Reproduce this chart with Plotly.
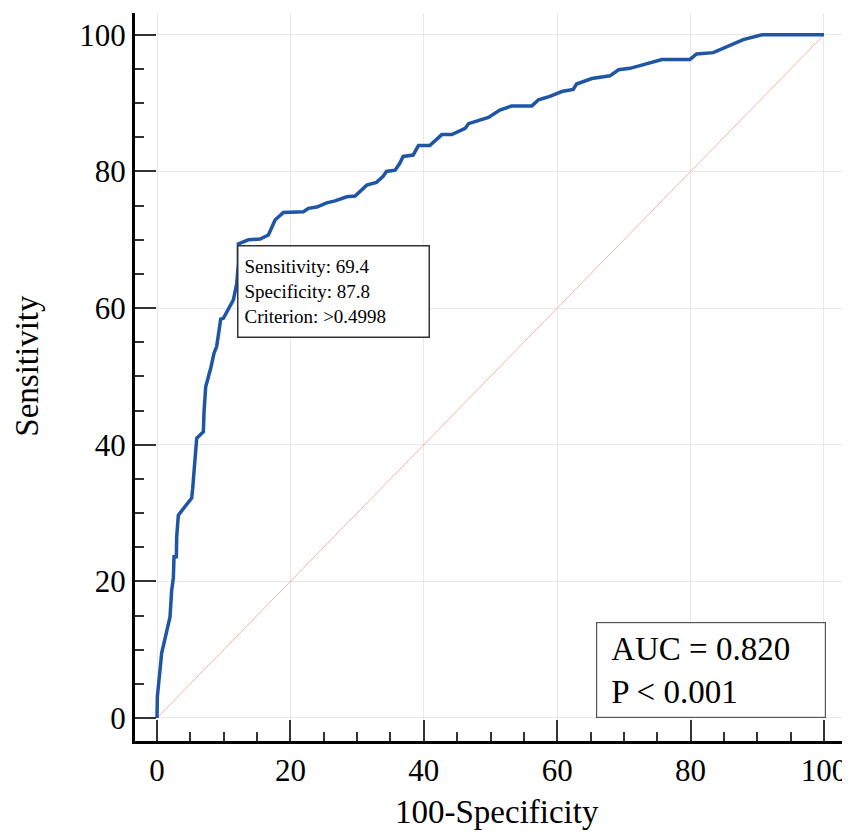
import plotly.graph_objects as go

# ROC curve points (100-Specificity, Sensitivity)
fpr = [0, 0.05, 0.7, 1.95, 2.2, 2.45, 2.55, 2.9, 2.95, 3.2, 5.2, 5.35, 5.95, 6.95, 7.05, 7.3,
       8.05, 8.55, 8.95, 9.2, 9.55, 9.95, 10.85, 11.45, 11.95, 12.2, 12.2, 13.7, 15.45,
       16.7, 17.7, 18.95, 21.95, 22.7, 23.95, 25.45, 26.7, 28.45, 29.7, 31.45, 32.9,
       33.9, 34.4, 35.7, 36.4, 36.9, 38.4, 39.2, 40.9, 42.7, 44.2, 46.2, 46.7, 49.7,
       51.4, 53.2, 56.2, 57.2, 58.9, 60.7, 62.4, 62.9, 65.2, 67.9, 69.2, 70.9, 72.4,
       74.7, 75.7, 79.9, 80.9, 83.4, 85.9, 87.9, 90.7, 100]
tpr = [0, 3.1, 9.5, 14.8, 18.7, 20.5, 23.6, 23.6, 26.5, 29.7, 32.2, 33.6, 40.95, 41.9, 44.8, 48.5,
       51.2, 53.4, 54.4, 55.8, 58.4, 58.5, 60.0, 61.2, 63.6, 66.6, 69.4, 70.0, 70.1,
       70.7, 72.9, 74.0, 74.1, 74.6, 74.8, 75.4, 75.7, 76.3, 76.4, 78.0, 78.4,
       79.3, 80.0, 80.2, 81.2, 82.2, 82.4, 83.8, 83.8, 85.4, 85.4, 86.3, 87.0, 87.9,
       89.0, 89.6, 89.6, 90.5, 91.0, 91.7, 92.0, 92.8, 93.6, 94.0, 94.9, 95.1, 95.5,
       96.2, 96.4, 96.4, 97.2, 97.4, 98.4, 99.3, 100, 100]

diag = [0, 100]
tick_vals = [0, 20, 40, 60, 80, 100]
tick_text = ["0", "20", "40", "60", "80", "100"]

cut_sens = 69.4
cut_spec = 87.8
criterion = ">0.4998"
auc = 0.820

FONT = "Liberation Serif, Times New Roman, serif"

fig = go.Figure()
fig.add_trace(go.Scatter(x=diag, y=diag, mode="lines",
                         line=dict(color="#f2b5ab", width=1), hoverinfo="skip",
                         showlegend=False))
fig.add_trace(go.Scatter(x=fpr, y=tpr, mode="lines",
                         line=dict(color="#1f55a5", width=3.5), showlegend=False))

fig.add_annotation(x=12.0, y=69.3, xref="x", yref="y",
                   xanchor="left", yanchor="top", align="left", valign="middle",
                   showarrow=False, width=178, height=78,
                   text=f"Sensitivity: {cut_sens}<br>Specificity: {cut_spec}<br>Criterion: {criterion}",
                   font=dict(family=FONT, size=19, color="black"),
                   bordercolor="#333333", borderwidth=1.5, borderpad=6, bgcolor="white")

fig.add_annotation(x=100.3, y=0, xref="x", yref="y", xanchor="right", yanchor="bottom",
                   align="left", valign="middle", showarrow=False, width=200, height=66,
                   text=f"AUC = {auc:.3f}<br>P &lt; 0.001",
                   font=dict(family=FONT, size=33, color="black"),
                   bordercolor="#555555", borderwidth=1.2, borderpad=14, bgcolor="white")

# axis titles
fig.add_annotation(x=0.508, y=-0.098, xref="paper", yref="paper", xanchor="center",
                   yanchor="middle", showarrow=False, text="100-Specificity",
                   font=dict(family=FONT, size=33, color="black"))
fig.add_annotation(x=-0.152, y=0.515, xref="paper", yref="paper", xanchor="center",
                   yanchor="middle", showarrow=False, text="Sensitivity", textangle=-90,
                   font=dict(family=FONT, size=33, color="black"))

axis_common = dict(
    showline=True, linecolor="black", linewidth=3, mirror=False, automargin=False,
    ticks="inside", ticklen=21, tickwidth=2, tickcolor="#333333",
    tickvals=tick_vals, ticktext=tick_text,
    showgrid=True, gridcolor="#e8e8e8", gridwidth=1, zeroline=False,
    tickfont=dict(family=FONT, size=31, color="black"),
    minor=dict(ticks="inside", ticklen=9, tickwidth=2, tickcolor="#333333", dtick=5,
               tick0=0, showgrid=False),
)

fig.update_xaxes(range=[-3.3, 103.6], **axis_common)
fig.update_yaxes(range=[-3.37, 103.2], **axis_common)

# the page adds an 8px body margin, so the figure is sized and offset to compensate
fig.update_layout(width=842, height=827, margin=dict(l=127, r=2, t=5, b=94, autoexpand=False),
                  plot_bgcolor="white", paper_bgcolor="white")

fig.write_html("out.html")
